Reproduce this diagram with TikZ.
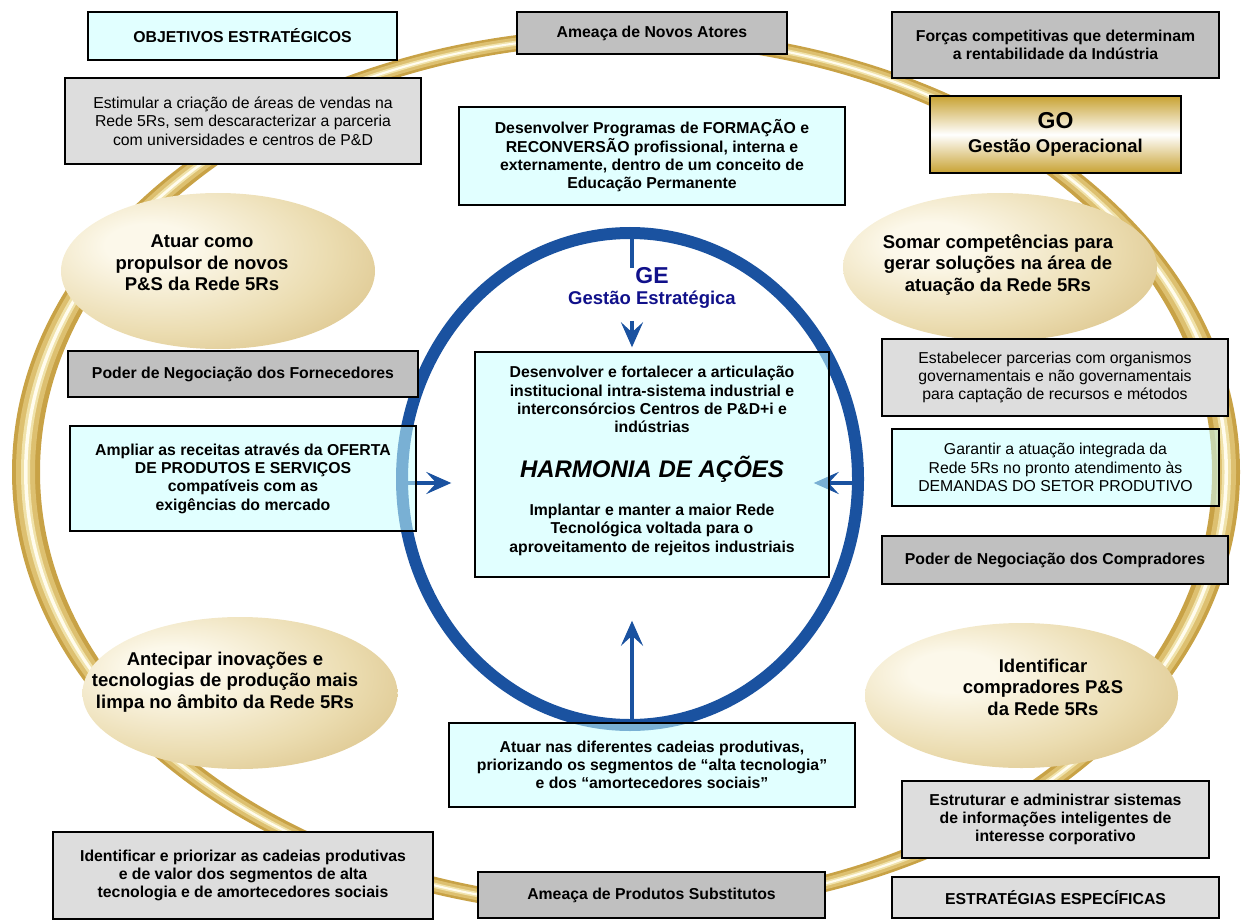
\documentclass[tikz,border=0pt]{standalone}
\usepackage{fontspec}
\setmainfont{Liberation Sans}
\usetikzlibrary{arrows.meta,shapes.geometric,calc,backgrounds}

\definecolor{cyanfill}{HTML}{C8FFFF}
\definecolor{grayA}{HTML}{C0C0C0}
\definecolor{grayB}{HTML}{DDDDDD}
\definecolor{blueR}{HTML}{1A52A0}
\definecolor{navyT}{HTML}{10108A}
\definecolor{ringD}{HTML}{C8A246}
\definecolor{ringM}{HTML}{DDC070}
\definecolor{ringL}{HTML}{F0E2AA}
\definecolor{ringW}{HTML}{FFFCEE}
\definecolor{eggA}{HTML}{FCF8EA}
\definecolor{eggB}{HTML}{EBDCB0}
\definecolor{eggC}{HTML}{D2B574}
\definecolor{eggD}{HTML}{BF9D55}
\definecolor{goD}{HTML}{C8A232}

\pgfdeclareradialshading{eggshade}{\pgfpoint{-12bp}{9bp}}{%
  color(0bp)=(eggA); color(7bp)=(eggA); color(26bp)=(eggB);
  color(46bp)=(eggC); color(66bp)=(eggD); color(80bp)=(eggD)}

\tikzset{
  txtB/.style={font=\bfseries\fontsize{15.8}{18.3}\selectfont},
  txtR/.style={font=\fontsize{15.8}{18.3}\selectfont},
  cbox/.style={draw=black, line width=1.4pt, fill=cyanfill, fill opacity=0.55,
    text opacity=1, align=center, inner sep=0pt, txtB},
  cboxr/.style={cbox, txtR},
  gbox/.style={draw=black, line width=1.4pt, fill=grayA, align=center,
    inner sep=0pt, txtB},
  lbox/.style={gbox, fill=grayB},
  lboxr/.style={lbox, txtR},
  egg/.style={ellipse, shading=eggshade, inner sep=0pt},
  eggtext/.style={align=center, inner sep=0pt,
    font=\bfseries\fontsize{18.5}{21.6}\selectfont},
  bluearrow/.style={draw=blueR, line width=4pt,
    -{Stealth[length=25pt,width=22pt,inset=10pt]}},
}

\begin{document}
\begin{tikzpicture}[x=1pt,y=-1pt]
\useasboundingbox (0,0) rectangle (1244,920);

% ---------- boxes and ovals (main layer) ----------
\node[cbox, minimum width=309pt, minimum height=48pt] (obj) at (242.5,36) {OBJETIVOS ESTRATÉGICOS};
\node[lboxr, minimum width=356pt, minimum height=86pt] (est) at (243,121) {%
  Estimular a criação de áreas de vendas na\\
  Rede 5Rs, sem descaracterizar a parceria\\
  com universidades e centros de P\&D};
\node[gbox, minimum width=270pt, minimum height=42pt] (nov) at (652,33) {Ameaça de Novos Atores};
\node[cbox, minimum width=386pt, minimum height=98pt] (prog) at (652,156) {%
  Desenvolver Programas de FORMAÇÃO e\\
  RECONVERSÃO profissional, interna e\\
  externamente, dentro de um conceito de\\
  Educação Permanente};
\node[gbox, minimum width=327pt, minimum height=66pt] (for) at (1055.5,45) {%
  Forças competitivas que determinam\\
  a rentabilidade da Indústria};
\node[draw=black, line width=1.4pt, top color=goD, bottom color=goD, middle color=white,
  minimum width=251pt, minimum height=77pt, align=center, inner sep=0pt,
  font=\bfseries\fontsize{18.5}{24}\selectfont] (go) at (1055.5,134.5) {%
  {\fontsize{23}{24}\selectfont GO}\\ Gestão Operacional};

\node[egg, minimum width=314pt, minimum height=156pt] (e1) at (218,271) {};
\node[eggtext] (t1) at (202,263) {Atuar como\\ propulsor de novos\\ P\&S da Rede 5Rs};

\node[egg, minimum width=314pt, minimum height=148pt] (e2) at (1000,267) {};
\node[eggtext] (t2) at (998,265) {Somar competências para\\ gerar soluções na área de\\ atuação da Rede 5Rs};

\node[gbox, minimum width=350pt, minimum height=46pt] (pf) at (243,374) {Poder de Negociação dos Fornecedores};
\node[cbox, minimum width=346pt, minimum height=105pt] (amp) at (243,478.5) {%
  Ampliar as receitas através da OFERTA\\
  DE PRODUTOS E SERVIÇOS\\
  compatíveis com as\\
  exigências do mercado};

\node[cbox, minimum width=354pt, minimum height=225pt] (ctr) at (652,464.5) {%
  Desenvolver e fortalecer a articulação\\
  institucional intra-sistema industrial e\\
  interconsórcios Centros de P\&D+i e\\
  indústrias\\[22pt]
  {\fontsize{24}{28}\selectfont\itshape HARMONIA DE AÇÕES}\\[20pt]
  Implantar e manter a maior Rede\\
  Tecnológica voltada para o\\
  aproveitamento de rejeitos industriais\\[-8pt]\mbox{}};

\node[inner sep=0pt, text=navyT, font=\bfseries\fontsize{23}{26}\selectfont] (ge) at (652,276) {GE};
\node[inner sep=0pt, text=navyT, font=\bfseries\fontsize{18.5}{21}\selectfont] (ges) at (652,300) {Gestão Estratégica};

\node[lboxr, minimum width=346pt, minimum height=77pt] (par) at (1055,377.5) {%
  Estabelecer parcerias com organismos\\
  governamentais e não governamentais\\
  para captação de recursos e métodos};
\node[cboxr, minimum width=327pt, minimum height=77pt] (gar) at (1055.5,467.5) {%
  Garantir a atuação integrada da\\
  Rede 5Rs no pronto atendimento às\\
  DEMANDAS DO SETOR PRODUTIVO};
\node[gbox, minimum width=346pt, minimum height=48pt] (pc) at (1055,560) {Poder de Negociação dos Compradores};

\node[egg, minimum width=315pt, minimum height=152pt] (e3) at (240,693) {};
\node[eggtext] (t3) at (225,682) {Antecipar inovações e\\ tecnologias de produção mais\\ limpa no âmbito da Rede 5Rs};

\node[egg, minimum width=313pt, minimum height=145pt] (e4) at (1021.5,695.5) {};
\node[eggtext] (t4) at (1043,687) {Identificar\\ compradores P\&S\\ da Rede 5Rs};

\node[cbox, minimum width=406pt, minimum height=84pt] (atu) at (652,765) {%
  Atuar nas diferentes cadeias produtivas,\\
  priorizando os segmentos de “alta tecnologia”\\
  e dos “amortecedores sociais”};

\node[lbox, minimum width=380pt, minimum height=87pt] (cad) at (243,875.5) {%
  Identificar e priorizar as cadeias produtivas\\
  e de valor dos segmentos de alta\\
  tecnologia e de amortecedores sociais};
\node[gbox, minimum width=347pt, minimum height=46pt] (sub) at (651.5,895) {Ameaça de Produtos Substitutos};
\node[lbox, minimum width=307pt, minimum height=77pt] (inf) at (1055.5,819.5) {%
  Estruturar e administrar sistemas\\
  de informações inteligentes de\\
  interesse corporativo};
\node[lbox, minimum width=327pt, minimum height=41pt] (esp) at (1055.5,897.5) {ESTRATÉGIAS ESPECÍFICAS};

\coordinate (gtop) at (632,233);
\coordinate (lin) at (405,483);
\coordinate (rin) at (862,483);

% ---------- ring, blue circle and arrows, beneath the boxes ----------
\begin{scope}[on background layer]
% golden ring drawn as nested bands
\fill[ringD, even odd rule] (626,472) ellipse [x radius=614pt, y radius=444pt]
                            (626,472) ellipse [x radius=586pt, y radius=428pt];
\fill[ringM, even odd rule] (626,472) ellipse [x radius=610pt, y radius=441.5pt]
                            (626,472) ellipse [x radius=591pt, y radius=430.5pt];
\fill[ringL, even odd rule] (626,472) ellipse [x radius=605pt, y radius=438.5pt]
                            (626,472) ellipse [x radius=596pt, y radius=433.5pt];
\fill[ringW, even odd rule] (626,472) ellipse [x radius=602pt, y radius=437pt]
                            (626,472) ellipse [x radius=598.5pt, y radius=435pt];
% blue ring of strategic management
\draw[blueR, line width=12pt] (630,479) ellipse [x radius=228pt, y radius=246pt];
% connectors into the centre
\draw[blueR, line width=4pt] (gtop) -- (gtop |- ge.north);
\draw[bluearrow] ($(ges.south -| gtop)+(0,-12pt)$) -- ($(ctr.north -| gtop)+(0,4pt)$);
\draw[bluearrow] (lin) -- ($(ctr.west |- lin)+(-23pt,0)$);
\draw[bluearrow] (rin) -- ($(ctr.east |- rin)+(-16pt,0)$);
\draw[bluearrow] (atu.north -| gtop) -- ($(ctr.south -| gtop)+(0,-43pt)$);
\end{scope}
\end{tikzpicture}
\end{document}
